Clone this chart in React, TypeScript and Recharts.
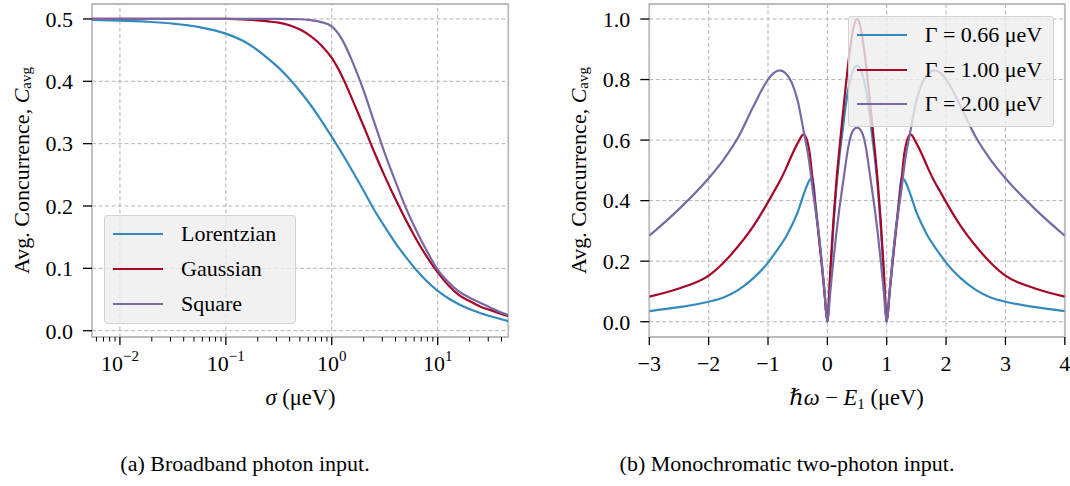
import React from 'react';
import {
  LineChart,
  Line,
  XAxis,
  YAxis,
  CartesianGrid,
  ReferenceLine,
  ReferenceArea,
  Legend,
  Label,
} from 'recharts';

// (a) broadband input: concurrence vs pulse width sigma (log axis)
const SIGMA = [0.00545, 0.01, 0.0178, 0.0316, 0.0562, 0.1, 0.158, 0.251, 0.316, 0.398, 0.501, 0.631, 0.794, 1, 1.26, 1.58, 2.0, 2.51, 3.16, 3.98, 5.01, 6.31, 7.94, 10, 12.6, 15.8, 20.0, 25.1, 31.6, 39.8, 46.4];
const LORENTZIAN = [0.4985, 0.4974, 0.4956, 0.4926, 0.487, 0.4765, 0.4615, 0.4365, 0.4215, 0.404, 0.384, 0.362, 0.3375, 0.311, 0.2835, 0.255, 0.2245, 0.194, 0.167, 0.141, 0.118, 0.097, 0.079, 0.064, 0.052, 0.0425, 0.0347, 0.0284, 0.0231, 0.0183, 0.0154];
const GAUSSIAN = [0.5, 0.5, 0.5, 0.5, 0.5, 0.5, 0.499, 0.496, 0.494, 0.49, 0.483, 0.4725, 0.458, 0.4375, 0.407, 0.369, 0.328, 0.287, 0.248, 0.2115, 0.1775, 0.146, 0.118, 0.0935, 0.073, 0.0575, 0.0475, 0.039, 0.033, 0.027, 0.0235];
const SQUARE = [0.5, 0.5, 0.5, 0.5, 0.5, 0.5, 0.5, 0.5, 0.5, 0.4998, 0.4995, 0.498, 0.495, 0.488, 0.466, 0.43, 0.385, 0.335, 0.285, 0.24, 0.197, 0.16, 0.127, 0.098, 0.078, 0.063, 0.053, 0.045, 0.037, 0.029, 0.025];
const SIGMA_MAJOR = [0.01, 0.1, 1, 10];
const SIGMA_MINOR = [0.006, 0.007, 0.008, 0.009, 0.02, 0.03, 0.04, 0.05, 0.06, 0.07, 0.08, 0.09, 0.2, 0.3, 0.4, 0.5, 0.6, 0.7, 0.8, 0.9, 2, 3, 4, 5, 6, 7, 8, 9, 20, 30, 40];
const C_TICKS_A = [0, 0.1, 0.2, 0.3, 0.4, 0.5];
const SERIES_A = ['lorentzian', 'gaussian', 'square'];

// (b) monochromatic input: concurrence vs detuning
const DETUNING = [-3, -2.5, -2, -1.75, -1.5, -1.25, -1, -0.9, -0.8, -0.7, -0.6, -0.5, -0.4, -0.3, -0.25, -0.2, -0.15, -0.1, -0.05,
  0, 0.05, 0.1, 0.15, 0.2, 0.25, 0.3, 0.35, 0.4, 0.45, 0.5, 0.55, 0.6, 0.65, 0.7, 0.75, 0.8, 0.85, 0.9, 0.95, 1,
  1.05, 1.1, 1.15, 1.2, 1.25, 1.3, 1.4, 1.5, 1.6, 1.7, 1.8, 1.9, 2, 2.25, 2.5, 2.75, 3, 3.5, 4];
const GAMMA_066 = [0.035, 0.048, 0.066, 0.08, 0.105, 0.143, 0.195, 0.222, 0.25, 0.28, 0.318, 0.362, 0.42, 0.468, 0.476, 0.39, 0.3, 0.2, 0.1,
  0, 0.16, 0.31, 0.44, 0.54, 0.62, 0.7, 0.765, 0.81, 0.838, 0.846, 0.838, 0.81, 0.765, 0.7, 0.62, 0.54, 0.44, 0.31, 0.16, 0,
  0.1, 0.2, 0.3, 0.39, 0.476, 0.468, 0.42, 0.362, 0.318, 0.28, 0.25, 0.222, 0.195, 0.143, 0.105, 0.08, 0.066, 0.048, 0.035];
const GAMMA_100 = [0.083, 0.11, 0.152, 0.195, 0.25, 0.315, 0.395, 0.43, 0.465, 0.505, 0.55, 0.59, 0.619, 0.56, 0.47, 0.38, 0.29, 0.2, 0.1,
  0, 0.17, 0.33, 0.46, 0.565, 0.665, 0.76, 0.85, 0.925, 0.98, 1.0, 0.98, 0.925, 0.85, 0.76, 0.665, 0.565, 0.46, 0.33, 0.17, 0,
  0.1, 0.2, 0.29, 0.38, 0.47, 0.56, 0.619, 0.59, 0.55, 0.505, 0.465, 0.43, 0.395, 0.315, 0.25, 0.195, 0.152, 0.11, 0.083];
const GAMMA_200 = [0.284, 0.372, 0.474, 0.535, 0.61, 0.71, 0.8, 0.822, 0.83, 0.82, 0.79, 0.73, 0.63, 0.52, 0.44, 0.37, 0.3, 0.21, 0.105,
  0, 0.1, 0.2, 0.29, 0.37, 0.44, 0.51, 0.575, 0.617, 0.636, 0.641, 0.636, 0.617, 0.575, 0.51, 0.44, 0.37, 0.29, 0.2, 0.1, 0,
  0.105, 0.21, 0.3, 0.37, 0.44, 0.52, 0.63, 0.73, 0.79, 0.82, 0.83, 0.822, 0.8, 0.71, 0.61, 0.535, 0.474, 0.372, 0.284];
const DET_TICKS = [-3, -2, -1, 0, 1, 2, 3, 4];
const C_TICKS_B = [0, 0.2, 0.4, 0.6, 0.8, 1.0];
const SERIES_B = ['g066', 'g100', 'g200'];

const BLUE = '#348ABD';
const RED = '#A60628';
const PURPLE = '#7A68A6';
const GRID = '#b3b3b3';
const SPINE = '#bcbcbc';
const FONT = "'Liberation Serif', 'DejaVu Serif', serif";
const FS = 22;

const dataA = SIGMA.map((s, i) => ({
  sigma: s,
  lorentzian: LORENTZIAN[i],
  gaussian: GAUSSIAN[i],
  square: SQUARE[i],
}));

const dataB = DETUNING.map((d, i) => ({
  det: d,
  g066: GAMMA_066[i],
  g100: GAMMA_100[i],
  g200: GAMMA_200[i],
}));

const X_DOMAIN_A: [number, number] = [0.00545, 46.4];
const Y_DOMAIN_A: [number, number] = [-0.0101, 0.524];
const X_DOMAIN_B: [number, number] = [-3, 4];
const Y_DOMAIN_B: [number, number] = [-0.0505, 1.0496];

function fmtMinus(v: number): string {
  return v < 0 ? '\u2212' + Math.abs(v) : String(v);
}

// log axis tick: long mark + 10^n label for decades, short mark otherwise
function LogTick(props: any) {
  const { x, y, payload } = props;
  const v = payload.value;
  const major = SIGMA_MAJOR.includes(v);
  const exp = Math.round(Math.log10(v));
  return (
    <g>
      <line x1={x} x2={x} y1={y} y2={y + (major ? 8 : 4.5)} stroke="#000" strokeWidth={major ? 1.3 : 1} />
      {major && (
        <text x={x} y={y + 34} textAnchor="middle" fontSize={FS} fill="#000">
          10
          <tspan dy={-10} fontSize={15}>{fmtMinus(exp)}</tspan>
        </text>
      )}
    </g>
  );
}

function yLabel(cx: number) {
  return () => (
    <text
      x={cx}
      y={170.5}
      transform={`rotate(-90, ${cx}, 170.5)`}
      textAnchor="middle"
      dominantBaseline="central"
      fontSize={FS}
      fill="#000"
    >
      Avg. Concurrence, <tspan fontStyle="italic">C</tspan>
      <tspan fontSize={15} dy={5}>avg</tspan>
    </text>
  );
}

function LegendBox(props: any) {
  const { payload = [] } = props;
  return (
    <div
      style={{
        width: '100%',
        height: '100%',
        boxSizing: 'border-box',
        background: 'rgba(238,238,238,0.8)',
        border: '1px solid rgba(204,204,204,0.8)',
        borderRadius: 4,
        paddingTop: 1,
        fontFamily: FONT,
      }}
    >
      {payload.map((p: any) => (
        <div key={p.value} style={{ display: 'flex', alignItems: 'center', height: 34.7 }}>
          <span style={{ display: 'inline-block', width: 50, borderTop: `2px solid ${p.color}`, marginLeft: 8, marginRight: 18 }} />
          <span style={{ fontSize: FS, lineHeight: `${FS}px`, color: '#000', whiteSpace: 'nowrap' }}>{p.value}</span>
        </div>
      ))}
    </div>
  );
}

const BroadbandChart: React.FC = () => (
  <LineChart width={520} height={420} data={dataA} margin={{ top: 4, right: 11.7, bottom: 0, left: 0 }}>
    <CartesianGrid vertical={false} stroke={GRID} strokeDasharray="4 2.5" />
    {SIGMA_MAJOR.map((v) => (
      <ReferenceLine key={v} x={v} stroke={GRID} strokeDasharray="4 2.5" />
    ))}
    <ReferenceArea x1={X_DOMAIN_A[0]} x2={X_DOMAIN_A[1]} y1={Y_DOMAIN_A[0]} y2={Y_DOMAIN_A[1]} fill="none" stroke={SPINE} strokeWidth={1.8} />
    <XAxis
      dataKey="sigma"
      type="number"
      scale="log"
      domain={X_DOMAIN_A}
      allowDataOverflow
      ticks={[...SIGMA_MAJOR, ...SIGMA_MINOR]}
      interval={0}
      tick={<LogTick />}
      tickLine={false}
      axisLine={false}
      tickSize={0}
      tickMargin={0}
      height={83}
    >
      <Label
        content={() => (
          <text x={300.5} y={405} textAnchor="middle" fontSize={FS + 0.5} fill="#000">
            <tspan fontStyle="italic">σ</tspan> (μeV)
          </text>
        )}
      />
    </XAxis>
    <YAxis
      type="number"
      domain={Y_DOMAIN_A}
      allowDataOverflow
      ticks={C_TICKS_A}
      interval={0}
      tickFormatter={(v: number) => v.toFixed(1)}
      tick={{ fill: '#000', fontSize: FS }}
      tickLine={{ stroke: '#000', strokeWidth: 1.3 }}
      axisLine={false}
      tickSize={9}
      tickMargin={10}
      width={92}
    >
      <Label content={yLabel(21)} />
    </YAxis>
    <Line dataKey="lorentzian" name="Lorentzian" type="monotone" stroke={BLUE} strokeWidth={2.2} dot={false} activeDot={false} isAnimationActive={false} />
    <Line dataKey="gaussian" name="Gaussian" type="monotone" stroke={RED} strokeWidth={2.2} dot={false} activeDot={false} isAnimationActive={false} />
    <Line dataKey="square" name="Square" type="monotone" stroke={PURPLE} strokeWidth={2.2} dot={false} activeDot={false} isAnimationActive={false} />
    <Legend
      layout="horizontal"
      align="center"
      verticalAlign="middle"
      itemSorter={(item: any) => SERIES_A.indexOf(item.dataKey)}
      content={(p: any) => <LegendBox {...p} />}
      wrapperStyle={{ left: 104, top: 215, width: 192, height: 109 }}
    />
  </LineChart>
);

const MonochromaticChart: React.FC = () => (
  <LineChart width={530} height={420} data={dataB} margin={{ top: 4, right: 5.2, bottom: 0, left: 0 }}>
    <CartesianGrid stroke={GRID} strokeDasharray="4 2.5" />
    <ReferenceArea x1={X_DOMAIN_B[0]} x2={X_DOMAIN_B[1]} y1={Y_DOMAIN_B[0]} y2={Y_DOMAIN_B[1]} fill="none" stroke={SPINE} strokeWidth={1.8} />
    <XAxis
      dataKey="det"
      type="number"
      domain={X_DOMAIN_B}
      allowDataOverflow
      ticks={DET_TICKS}
      interval={0}
      tickFormatter={fmtMinus}
      tick={{ fill: '#000', fontSize: FS }}
      tickLine={{ stroke: '#000', strokeWidth: 1.3 }}
      axisLine={false}
      tickSize={8}
      tickMargin={10}
      height={83}
    >
      <Label
        content={() => (
          <text x={316.5} y={405} textAnchor="middle" fontSize={FS + 0.5} fill="#000">
            <tspan fontStyle="italic">ℏω</tspan> − <tspan fontStyle="italic">E</tspan>
            <tspan fontSize={15} dy={4}>1</tspan>
            <tspan dy={-4}> (μeV)</tspan>
          </text>
        )}
      />
    </XAxis>
    <YAxis
      type="number"
      domain={Y_DOMAIN_B}
      allowDataOverflow
      ticks={C_TICKS_B}
      interval={0}
      tickFormatter={(v: number) => v.toFixed(1)}
      tick={{ fill: '#000', fontSize: FS }}
      tickLine={{ stroke: '#000', strokeWidth: 1.3 }}
      axisLine={false}
      tickSize={9}
      tickMargin={10}
      width={109.3}
    >
      <Label content={yLabel(38.3)} />
    </YAxis>
    <Line dataKey="g066" name="Γ = 0.66 μeV" type="monotone" stroke={BLUE} strokeWidth={2.2} dot={false} activeDot={false} isAnimationActive={false} />
    <Line dataKey="g100" name="Γ = 1.00 μeV" type="monotone" stroke={RED} strokeWidth={2.2} dot={false} activeDot={false} isAnimationActive={false} />
    <Line dataKey="g200" name="Γ = 2.00 μeV" type="monotone" stroke={PURPLE} strokeWidth={2.2} dot={false} activeDot={false} isAnimationActive={false} />
    <Legend
      layout="horizontal"
      align="center"
      verticalAlign="middle"
      itemSorter={(item: any) => SERIES_B.indexOf(item.dataKey)}
      content={(p: any) => <LegendBox {...p} />}
      wrapperStyle={{ left: 307.7, top: 15.7, width: 206, height: 111 }}
    />
  </LineChart>
);

const captionStyle: React.CSSProperties = {
  position: 'absolute',
  top: 453,
  fontSize: 22,
  lineHeight: '22px',
  textAlign: 'center',
  color: '#000',
  whiteSpace: 'nowrap',
};

export default function App() {
  return (
    <div
      style={{
        position: 'absolute',
        left: 0,
        top: 0,
        width: 1070,
        height: 486,
        background: '#fff',
        fontFamily: FONT,
        overflow: 'hidden',
      }}
    >
      <div style={{ position: 'absolute', left: 0, top: 0 }}>
        <BroadbandChart />
      </div>
      <div style={{ position: 'absolute', left: 540, top: 0 }}>
        <MonochromaticChart />
      </div>
      <div style={{ ...captionStyle, left: 0, width: 490 }}>(a) Broadband photon input.</div>
      <div style={{ ...captionStyle, left: 540, width: 494 }}>(b) Monochromatic two-photon input.</div>
    </div>
  );
}
